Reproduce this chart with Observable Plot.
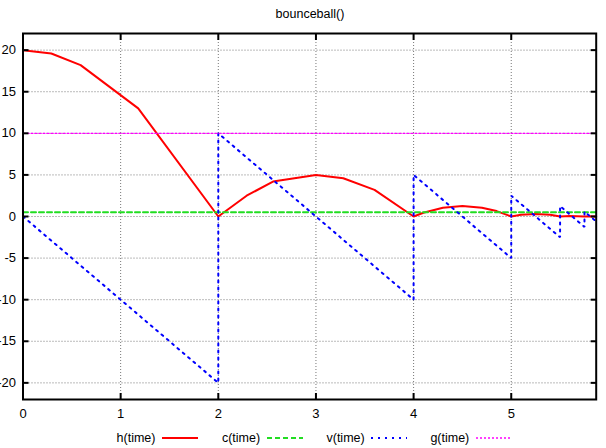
<!DOCTYPE html>
<html><head><meta charset="utf-8">
<script src="https://cdn.jsdelivr.net/npm/d3@7"></script>
<script src="https://cdn.jsdelivr.net/npm/@observablehq/plot@0.6"></script>
<style>
body{margin:0;background:#fff;font-family:"Liberation Sans",Arial,sans-serif;}
#wrap{position:relative;width:606px;height:448px;overflow:hidden;}
#title{position:absolute;left:0;top:0;width:620px;text-align:center;font-size:12.5px;line-height:28px;color:#000;}
#chart{position:absolute;left:0;top:25px;}
.leg{position:absolute;top:428px;height:20px;}
.leg span{position:absolute;top:0;width:70px;text-align:right;font-size:12.5px;line-height:20px;color:#000;}
.leg svg{position:absolute;top:0;}
</style></head><body>
<div id="wrap"><div id="title"></div><div id="chart"></div><div id="legend"></div></div>
<script>
const title = "bounceball()";
const seriesNames = ["h(time)", "c(time)", "v(time)", "g(time)"];
const hTime  = [0, 0.29, 0.59, 1.18, 2.0, 2.29, 2.56, 3.0, 3.28, 3.6, 4.0, 4.1, 4.3, 4.5, 4.7, 4.85, 5.0, 5.1, 5.25, 5.4, 5.5, 5.6, 5.75, 5.8, 5.87];
const hValue = [20, 19.6, 18.2, 13.0, 0, 2.5, 4.2, 5.0, 4.6, 3.2, 0, 0.45, 1.05, 1.25, 1.05, 0.65, 0, 0.2, 0.3, 0.2, 0, 0.07, 0, 0.02, 0];
const cTime  = [0, 5.87];
const cValue = [0.5, 0.5];
const vTime  = [0, 2, 2, 4, 4, 5, 5, 5.5, 5.5, 5.75, 5.75, 5.87];
const vValue = [0, -20, 10, -10, 5, -5, 2.5, -2.5, 1.25, -1.25, 0.6, -0.6];
const gTime  = [0, 5.87];
const gValue = [10, 10];
const xTicks = [0, 1, 2, 3, 4, 5];
const yTicks = [-20, -15, -10, -5, 0, 5, 10, 15, 20];
const xDomain = [0, 5.87];
const yDomain = [-22, 22];

const styles = {
  "h(time)": {stroke: "#ff0000", strokeWidth: 2, strokeDasharray: null},
  "c(time)": {stroke: "#22dd22", strokeWidth: 2, strokeDasharray: "5,3"},
  "v(time)": {stroke: "#0000ff", strokeWidth: 2, strokeDasharray: "2,5"},
  "g(time)": {stroke: "#ff00ff", strokeWidth: 1.3, strokeDasharray: "2,2"}
};
const seriesData = [
  [hTime, hValue], [cTime, cValue], [vTime, vValue], [gTime, gValue]
].map(([ts, vs], i) => ts.map((t, j) => ({name: seriesNames[i], t, v: vs[j]})));

document.getElementById("title").textContent = title;

const lineMarks = seriesData.map((rows, i) => {
  const s = styles[seriesNames[i]];
  return Plot.line(rows, {x: "t", y: "v", stroke: s.stroke, strokeWidth: s.strokeWidth, strokeDasharray: s.strokeDasharray || undefined, strokeLinejoin: "miter"});
});

const gridStyle = {stroke: "#777", strokeOpacity: 1, strokeWidth: 1, strokeDasharray: "1,2"};
const fmt = d => String(d);
const blank = () => "";

const chart = Plot.plot({
  width: 606,
  height: 400,
  marginLeft: 22.5,
  marginRight: 10.3,
  marginTop: 8,
  marginBottom: 26,
  style: {fontFamily: "'Liberation Sans', Arial, sans-serif", fontSize: "13px", color: "#000", background: "#fff"},
  x: {domain: xDomain},
  y: {domain: yDomain},
  marks: [
    Plot.gridX(xTicks, gridStyle),
    Plot.gridY(yTicks, gridStyle),
    ...lineMarks,
    Plot.axisX(xTicks, {anchor: "bottom", tickSize: 0, tickPadding: 9, tickFormat: fmt, label: null}),
    Plot.axisY(yTicks, {anchor: "left", tickSize: 0, tickPadding: 7, tickFormat: fmt, label: null}),
    Plot.axisX(xTicks, {anchor: "bottom", tickSize: -6, strokeWidth: 2, tickFormat: blank, label: null}),
    Plot.axisX(xTicks, {anchor: "top", tickSize: -6, strokeWidth: 2, tickFormat: blank, label: null}),
    Plot.axisY(yTicks, {anchor: "left", tickSize: -6, strokeWidth: 2, tickFormat: blank, label: null}),
    Plot.axisY(yTicks, {anchor: "right", tickSize: -6, strokeWidth: 2, tickFormat: blank, label: null}),
    Plot.frame({stroke: "#000", strokeWidth: 2})
  ]
});
document.getElementById("chart").appendChild(chart);

const legend = document.getElementById("legend");
seriesNames.forEach((name, i) => {
  const L = 116 + i * 104.6;
  const item = document.createElement("div");
  item.className = "leg";
  item.style.left = L + "px";
  const span = document.createElement("span");
  span.textContent = name;
  span.style.left = (39.5 - 70) + "px";
  item.appendChild(span);
  const s = styles[name];
  const svg = d3.create("svg").attr("width", 36).attr("height", 20).style("left", "46px");
  svg.append("line").attr("x1", 0).attr("x2", 36).attr("y1", 10).attr("y2", 10)
    .attr("stroke", s.stroke).attr("stroke-width", s.strokeWidth)
    .attr("stroke-dasharray", s.strokeDasharray);
  item.appendChild(svg.node());
  legend.appendChild(item);
});
</script>
</body></html>
